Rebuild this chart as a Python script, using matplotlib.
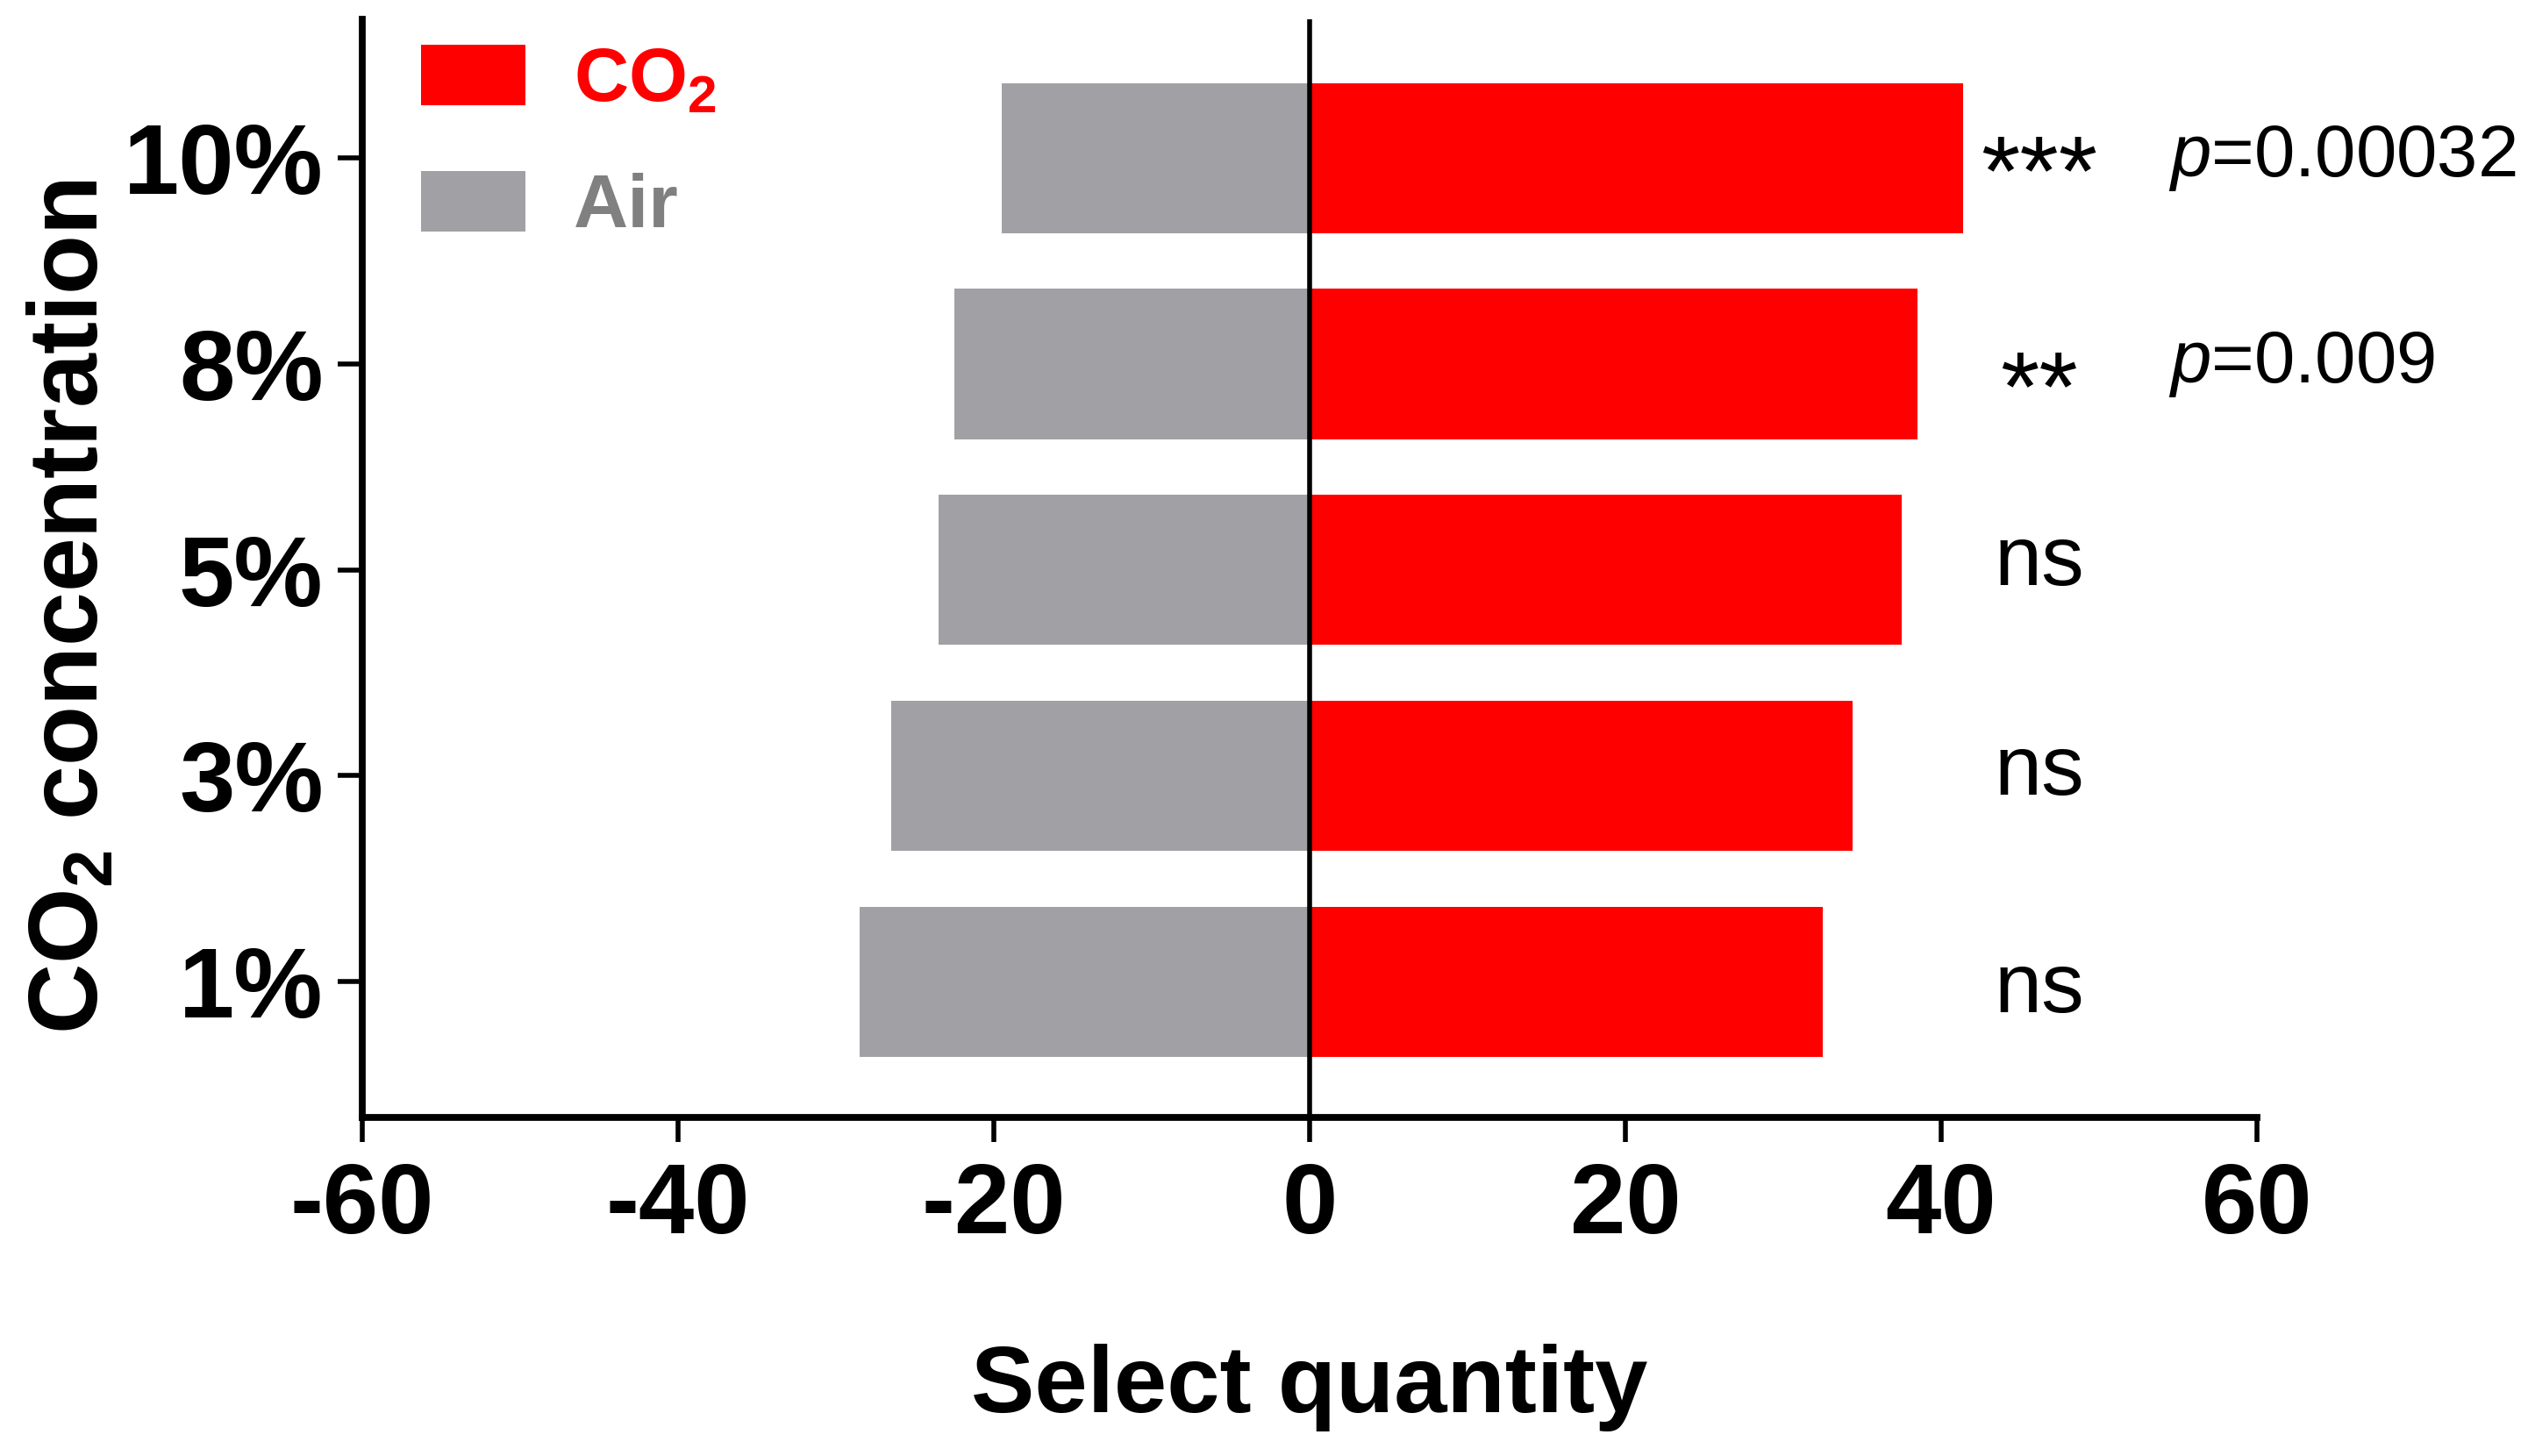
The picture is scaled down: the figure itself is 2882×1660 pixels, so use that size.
import numpy as np
import matplotlib
matplotlib.use("Agg")
import matplotlib.pyplot as plt

plt.rcParams["font.family"] = ["Liberation Sans", "DejaVu Sans"]
plt.rcParams["mathtext.fontset"] = "custom"
plt.rcParams["mathtext.rm"] = "Liberation Sans"
plt.rcParams["mathtext.it"] = "Liberation Sans:italic"
plt.rcParams["mathtext.bf"] = "Liberation Sans:bold"
plt.rcParams["axes.unicode_minus"] = False

# datos (de abajo hacia arriba)
categories = ["1%", "3%", "5%", "8%", "10%"]
co2_values = [32.5, 34.4, 37.5, 38.5, 41.4]
air_values = [-28.5, -26.5, -23.5, -22.5, -19.5]
signif     = ["ns", "ns", "ns", "**", "***"]
p_labels   = ["", "", "", "$p$=0.009", "$p$=0.00032"]
x_ticks    = [-60, -40, -20, 0, 20, 40, 60]

RED  = "#FF0000"
GRAY = "#A1A0A4"

fig = plt.figure(figsize=(14.41, 8.30), dpi=200)
ax = fig.add_axes([0.1433, 0.2325, 0.7495, 0.7542])

y = np.arange(len(categories))
ax.barh(y, co2_values, height=0.73, color=RED, label=r"CO$_\mathbf{2}$")
ax.barh(y, air_values, height=0.73, color=GRAY, label="Air")
ax.axvline(0, color="black", lw=2.0, zorder=3)

ax.set_xlim(-60, 60)
ax.set_ylim(-0.66, 4.675)
ax.set_xticks(x_ticks)
ax.set_yticks(y)
ax.set_yticklabels(categories)

ax.spines[["top", "right"]].set_visible(False)
ax.spines[["left", "bottom"]].set_linewidth(2.8)
ax.tick_params(width=2, length=10, labelsize=41)
ax.tick_params(axis="x", pad=8)
ax.tick_params(axis="y", pad=6)
for lab in ax.get_xticklabels() + ax.get_yticklabels():
    lab.set_fontweight("bold")

ax.set_xlabel("Select quantity", fontsize=39, fontweight="bold", va="center")
ax.xaxis.set_label_coords(0.5, -0.246)
ax.set_ylabel(r"CO$_\mathbf{2}$ concentration", fontsize=40, fontweight="bold", va="center")
ax.yaxis.set_label_coords(-0.153, 0.465)

# significancia (ligeros ajustes verticales como en la figura original)
ns_shift = {0: -0.04, 1: 0.015, 2: 0.035}
for yi, s, p in zip(y, signif, p_labels):
    if s == "ns":
        ax.text(46.2, yi + ns_shift[yi], s, fontsize=35, ha="center", va="center", clip_on=False)
    else:
        dy = -0.1 if s == "***" else -0.15
        ax.text(46.2, yi + dy, s, fontsize=41, ha="center", va="center", clip_on=False)
    if p:
        ax.text(54.4, yi, p, fontsize=30, ha="left", va="center", clip_on=False)

leg = ax.legend(loc="upper left", bbox_to_anchor=(480 / 2882, 1 - 51 / 1660),
                bbox_transform=fig.transFigure, frameon=False,
                prop={"weight": "bold", "size": 31},
                handlelength=1.38, handleheight=0.85, handletextpad=0.64,
                labelspacing=0.72, borderaxespad=0, borderpad=0)
leg.get_texts()[0].set_color(RED)
leg.get_texts()[1].set_color("#808080")

plt.savefig("out.png", dpi=200)
